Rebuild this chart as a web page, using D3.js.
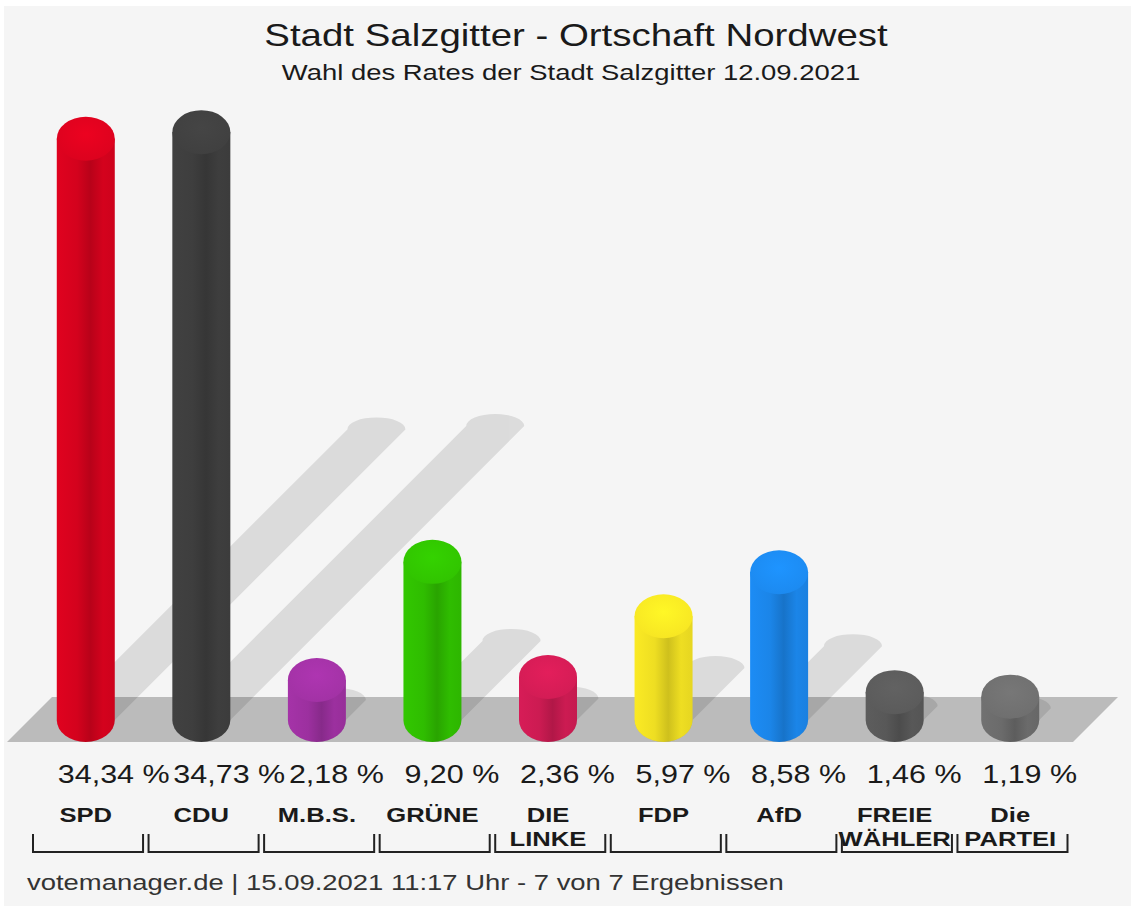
<!DOCTYPE html>
<html>
<head>
<meta charset="utf-8">
<script src="https://cdn.jsdelivr.net/npm/d3@7"></script>
<style>
  body { margin: 0; background: #fff; }
  svg { display: block; }
  text { font-family: "Liberation Sans", Arial, sans-serif; fill: #1a1a1a; }
</style>
</head>
<body>
<svg id="chart" width="1133" height="908"></svg>
<script>
// data
const parties = ["SPD", "CDU", "M.B.S.", "GRÜNE", "DIE LINKE", "FDP", "AfD", "FREIE WÄHLER", "Die PARTEI"];
const nameLines = [["SPD"], ["CDU"], ["M.B.S."], ["GRÜNE"], ["DIE", "LINKE"], ["FDP"], ["AfD"], ["FREIE", "WÄHLER"], ["Die", "PARTEI"]];
const values = [34.34, 34.73, 2.18, 9.20, 2.36, 5.97, 8.58, 1.46, 1.19];
const colors = ["#d4021d", "#3e3e3e", "#9c309f", "#2fbd00", "#cc1b52", "#eede22", "#1b85e8", "#585858", "#6b6b6b"];
const title = "Stadt Salzgitter - Ortschaft Nordwest";
const subtitle = "Wahl des Rates der Stadt Salzgitter 12.09.2021";
const footer = "votemanager.de | 15.09.2021 11:17 Uhr - 7 von 7 Ergebnissen";

const W = 1133, H = 908;
const SX = 1.22; // the reference text is drawn wide
const svg = d3.select("#chart");

svg.append("rect")
    .attr("x", 4).attr("y", 6)
    .attr("width", W - 6).attr("height", H - 8)
    .attr("fill", "#f5f5f5");

const x = d3.scaleBand().domain(parties).range([28, 1068]);
const y = d3.scaleLinear().domain([0, 35]).range([716.7, 127.65]);
const baseY = 720, r = 29, ry = 22;
const cx = (p) => x(p) + x.bandwidth() / 2;
const fmt = (v) => d3.format(".2f")(v).replace(".", ",") + " %";

function addText(sel, tx, ty, str, size, weight, anchor) {
  return sel.append("text")
      .attr("transform", "translate(" + tx + "," + ty + ") scale(" + SX + ",1)")
      .attr("text-anchor", anchor || "middle")
      .attr("font-size", size)
      .attr("font-weight", weight || "normal")
      .text(str);
}

// floor
svg.append("path")
    .attr("d", d3.line()([[7, 742], [52, 697], [1118, 697], [1073, 742]]) + "Z")
    .attr("fill", "#bbbbbb");

// shadows
const shadows = svg.append("g").attr("opacity", 0.1);
shadows.selectAll("path")
    .data(parties)
  .enter().append("path")
    .attr("fill", "#000")
    .attr("d", (p, i) => {
      const c = cx(p), d = 0.5 * (baseY - y(values[i]));
      return "M" + (c - r) + "," + baseY +
        "L" + (c - r + d) + "," + (baseY - d) +
        "A" + r + "," + 12 + " 0 0 1 " + (c + r + d) + "," + (baseY - d) +
        "L" + (c + r) + "," + baseY +
        "A" + r + "," + ry + " 0 0 1 " + (c - r) + "," + baseY + "Z";
    });

// gradients
const defs = svg.append("defs");
colors.forEach((col, i) => {
  const c = d3.color(col);
  const g = defs.append("linearGradient").attr("id", "side" + i)
      .attr("x1", 0).attr("x2", 1).attr("y1", 0).attr("y2", 0);
  [[0, c.brighter(0.15)], [0.35, c], [0.58, c.darker(0.4)], [0.8, c], [1, c.darker(0.1)]]
    .forEach(([o, k]) => g.append("stop").attr("offset", o).attr("stop-color", k));
  const rg = defs.append("radialGradient").attr("id", "cap" + i)
      .attr("cx", 0.5).attr("cy", 0.4).attr("r", 0.6);
  rg.append("stop").attr("offset", 0).attr("stop-color", c.brighter(0.3));
  rg.append("stop").attr("offset", 1).attr("stop-color", c.brighter(0.1));
});

// cylinders
const bar = svg.selectAll("g.bar")
    .data(parties)
  .enter().append("g").attr("class", "bar");

bar.append("path")
    .attr("fill", (p, i) => "url(#side" + i + ")")
    .attr("d", (p, i) => {
      const c = cx(p), t = y(values[i]);
      return "M" + (c - r) + "," + t +
        "L" + (c - r) + "," + baseY +
        "A" + r + "," + ry + " 0 0 0 " + (c + r) + "," + baseY +
        "L" + (c + r) + "," + t + "Z";
    });

bar.append("ellipse")
    .attr("cx", (p) => cx(p))
    .attr("cy", (p, i) => y(values[i]))
    .attr("rx", r).attr("ry", ry)
    .attr("fill", (p, i) => "url(#cap" + i + ")");

// value labels, starting at the bar's left edge
parties.forEach((p, i) => addText(svg, cx(p) - r + 1, 783, fmt(values[i]), 25, "normal", "start"));

// party names
parties.forEach((p, i) => {
  nameLines[i].forEach((line, j) => addText(svg, cx(p), 822 + j * 24, line, 21, "bold"));
});

// brackets
svg.append("g").selectAll("path")
    .data(parties)
  .enter().append("path")
    .attr("fill", "none")
    .attr("stroke", "#222")
    .attr("stroke-width", 2)
    .attr("d", (p) => {
      const x0 = x(p) + 5, x1 = x(p) + x.bandwidth() - 0.5;
      return "M" + x0 + ",834V852H" + x1 + "V834";
    });

// titles and footer
addText(svg, 576, 46, title, 31.5);
addText(svg, 571, 80, subtitle, 22.5);
addText(svg, 27, 890, footer, 22.5, "normal", "start").style("fill", "#333");
</script>
</body>
</html>
